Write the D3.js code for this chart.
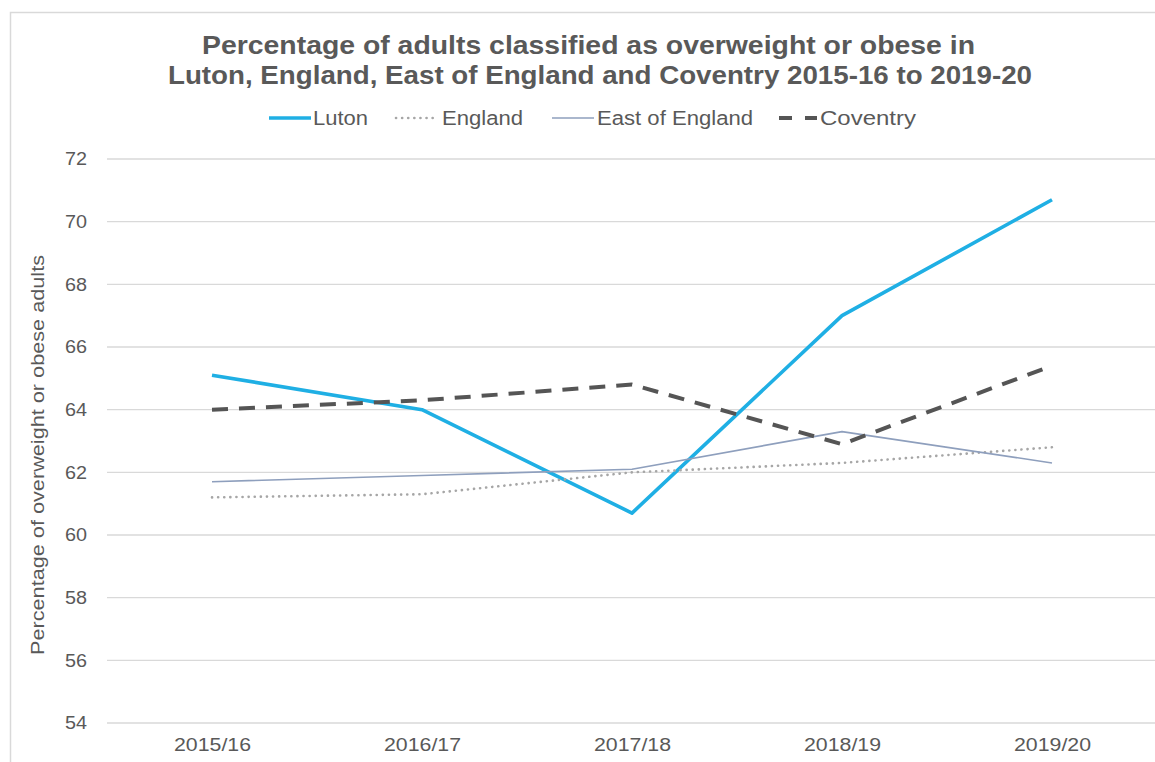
<!DOCTYPE html>
<html>
<head>
<meta charset="utf-8">
<script src="https://cdn.jsdelivr.net/npm/d3@7"></script>
<style>
  html, body { margin: 0; padding: 0; background: #fff; }
  svg { display: block; font-family: "Liberation Sans", Arial, sans-serif; }
</style>
</head>
<body>
<svg id="chart" width="1155" height="762"></svg>
<script>
const categories = ["2015/16", "2016/17", "2017/18", "2018/19", "2019/20"];
const luton = [65.1, 64.0, 60.7, 67.0, 70.7];
const england = [61.2, 61.3, 62.0, 62.3, 62.8];
const eastOfEngland = [61.7, 61.9, 62.1, 63.3, 62.3];
const coventry = [64.0, 64.3, 64.8, 62.9, 65.4];
const yTicks = [54, 56, 58, 60, 62, 64, 66, 68, 70, 72];
const seriesNames = ["Luton", "England", "East of England", "Coventry"];

const series = [
  { name: seriesNames[0], values: luton, color: "#1fafe4", width: 3.6, dash: null },
  { name: seriesNames[1], values: england, color: "#a6a6a6", width: 2.6, dash: "0.1,6" },
  { name: seriesNames[2], values: eastOfEngland, color: "#8e9fbd", width: 1.6, dash: null },
  { name: seriesNames[3], values: coventry, color: "#555555", width: 4, dash: "16,11" }
];

const svg = d3.select("#chart");
const W = 1155, H = 762;
const plotLeft = 107, plotRight = 1157, plotTop = 159, plotBottom = 723;
const FONT = "'Liberation Sans', Arial, sans-serif";

// frame
svg.append("rect").attr("x", 10.5).attr("y", 12.5).attr("width", W).attr("height", H)
  .attr("fill", "#fff").attr("stroke", "#d9d9d9").attr("stroke-width", 1.5);

const x = d3.scalePoint().domain(categories).range([plotLeft, plotRight]).padding(0.5);
const y = d3.scaleLinear().domain([54, 72]).range([plotBottom, plotTop]);

// gridlines
svg.append("g").selectAll("line").data(yTicks).join("line")
  .attr("x1", plotLeft).attr("x2", 1155)
  .attr("y1", d => y(d)).attr("y2", d => y(d))
  .attr("stroke", "#d9d9d9").attr("stroke-width", 1.3);

// y axis labels
const yAxis = d3.axisLeft(y).tickValues(yTicks).tickSize(0).tickPadding(0);
const gy = svg.append("g").attr("transform", "translate(87,0)").call(yAxis);
gy.select(".domain").remove();
gy.selectAll("text").attr("fill", "#595959").style("font-size", "18px")
  .style("font-family", FONT)
  .attr("textLength", 22).attr("lengthAdjust", "spacingAndGlyphs");

// x axis labels
const xAxis = d3.axisBottom(x).tickSize(0).tickPadding(0);
const gx = svg.append("g").attr("transform", `translate(0,${plotBottom + 15})`).call(xAxis);
gx.select(".domain").remove();
gx.selectAll("text").attr("fill", "#595959").style("font-size", "18px")
  .style("font-family", FONT)
  .attr("textLength", 77).attr("lengthAdjust", "spacingAndGlyphs");

// lines
const line = d3.line().x((d, i) => x(categories[i])).y(d => y(d));
series.forEach(s => {
  svg.append("path").datum(s.values)
    .attr("d", line)
    .attr("fill", "none")
    .attr("stroke", s.color)
    .attr("stroke-width", s.width)
    .attr("stroke-dasharray", s.dash)
    .attr("stroke-linejoin", "round")
    .attr("stroke-linecap", s.name === "England" ? "round" : "butt");
});

// title
const titleLines = [
  { text: "Percentage of adults classified as overweight or obese in", x: 202, y: 54, len: 773 },
  { text: "Luton, England, East of England and Coventry 2015-16 to 2019-20", x: 168, y: 84, len: 864 }
];
titleLines.forEach(t => {
  svg.append("text").attr("x", t.x).attr("y", t.y)
    .attr("fill", "#595959").style("font-size", "26px").style("font-weight", "bold")
    .attr("textLength", t.len).attr("lengthAdjust", "spacingAndGlyphs")
    .text(t.text);
});

// y axis title
svg.append("text")
  .attr("transform", "translate(44,455) rotate(-90)")
  .attr("text-anchor", "middle").attr("fill", "#595959")
  .style("font-size", "18px")
  .attr("textLength", 400).attr("lengthAdjust", "spacingAndGlyphs")
  .text("Percentage of overweight or obese adults");

// legend
const legendItems = [
  { s: series[0], x1: 269, x2: 311, tx: 313, len: 55 },
  { s: series[1], x1: 396, x2: 438, tx: 442, len: 81 },
  { s: series[2], x1: 552, x2: 594, tx: 597, len: 156 },
  { s: series[3], x1: 779, x2: 817, tx: 820, len: 96 }
];
const lg = svg.append("g");
legendItems.forEach(it => {
  lg.append("line").attr("x1", it.x1).attr("x2", it.x2).attr("y1", 118).attr("y2", 118)
    .attr("stroke", it.s.color).attr("stroke-width", it.s.width)
    .attr("stroke-dasharray", it.s.name === "Coventry" ? "13,13" : it.s.dash)
    .attr("stroke-linecap", it.s.name === "England" ? "round" : "butt");
  lg.append("text").attr("x", it.tx).attr("y", 125).attr("fill", "#595959")
    .style("font-size", "20px")
    .attr("textLength", it.len).attr("lengthAdjust", "spacingAndGlyphs")
    .text(it.s.name);
});
</script>
</body>
</html>
